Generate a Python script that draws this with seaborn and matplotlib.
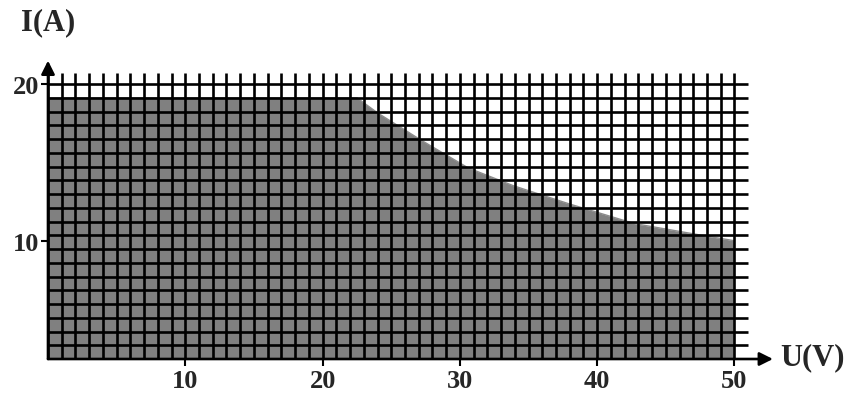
import numpy as np
import matplotlib
matplotlib.use("Agg")
import matplotlib.pyplot as plt
import seaborn as sns

# boundary of the shaded operating area
u_edge = [0, 22.5, 24.0, 27.2, 30.6, 33.9, 37.9, 42.7, 47.6, 50.0]
i_edge = [19.0, 19.0, 17.9, 15.9, 13.9, 12.6, 11.3, 9.85, 9.0, 8.6]

x_ticks = [10, 20, 30, 40, 50]
x_labels = ["10", "20", "30", "40", "50"]
y_ticks = [8.6, 20]          # the "10" label sits low in the original drawing
y_labels = ["10", "20"]

sns.set_style("white")
plt.rcParams["font.family"] = ["Liberation Serif", "DejaVu Serif"]
plt.rcParams["font.weight"] = "bold"

fig = plt.figure(figsize=(8.5, 4.06), dpi=100)
ax = fig.add_axes([48 / 850, 46 / 406, 56 * 13.73 / 850, 22 * 13.75 / 406])
ax.set_xlim(0, 56)
ax.set_ylim(0, 22)

# shaded area
ax.fill_between(u_edge, 0, i_edge, color="#808080", lw=0, zorder=1)
sns.lineplot(x=u_edge, y=i_edge, ax=ax, color="#8c8c8c", lw=1.0, zorder=2)

# grid
ax.vlines(np.arange(0, 51), 0, 20.8, color="black", lw=1.9, zorder=3)
ax.hlines(np.arange(0, 21), 0, 51, color="black", lw=1.9, zorder=3)

# axes with arrows
for s in ax.spines.values():
    s.set_visible(False)
ax.annotate("", xy=(52.8, 0), xytext=(0, 0),
            arrowprops=dict(arrowstyle="-|>", color="black", lw=1.9,
                            mutation_scale=20, shrinkA=0, shrinkB=0),
            zorder=4, annotation_clip=False)
ax.annotate("", xy=(0, 21.7), xytext=(0, 0),
            arrowprops=dict(arrowstyle="-|>", color="black", lw=1.9,
                            mutation_scale=20, shrinkA=0, shrinkB=0),
            zorder=4, annotation_clip=False)

ax.set_xticks(x_ticks)
ax.set_xticklabels(x_labels)
ax.set_yticks(y_ticks)
ax.set_yticklabels(y_labels)
ax.tick_params(axis="both", labelsize=19, direction="out", length=5, width=1.5,
               color="black", pad=2)
ax.tick_params(axis="x", bottom=True)
ax.tick_params(axis="y", left=True, pad=1)

ax.text(53.3, 0.2, "U(V)", fontsize=22, fontweight="bold", ha="left", va="center")
ax.text(0, 24.5, "I(A)", fontsize=22, fontweight="bold", ha="center", va="center",
        clip_on=False)

fig.savefig("out.png", dpi=100)
